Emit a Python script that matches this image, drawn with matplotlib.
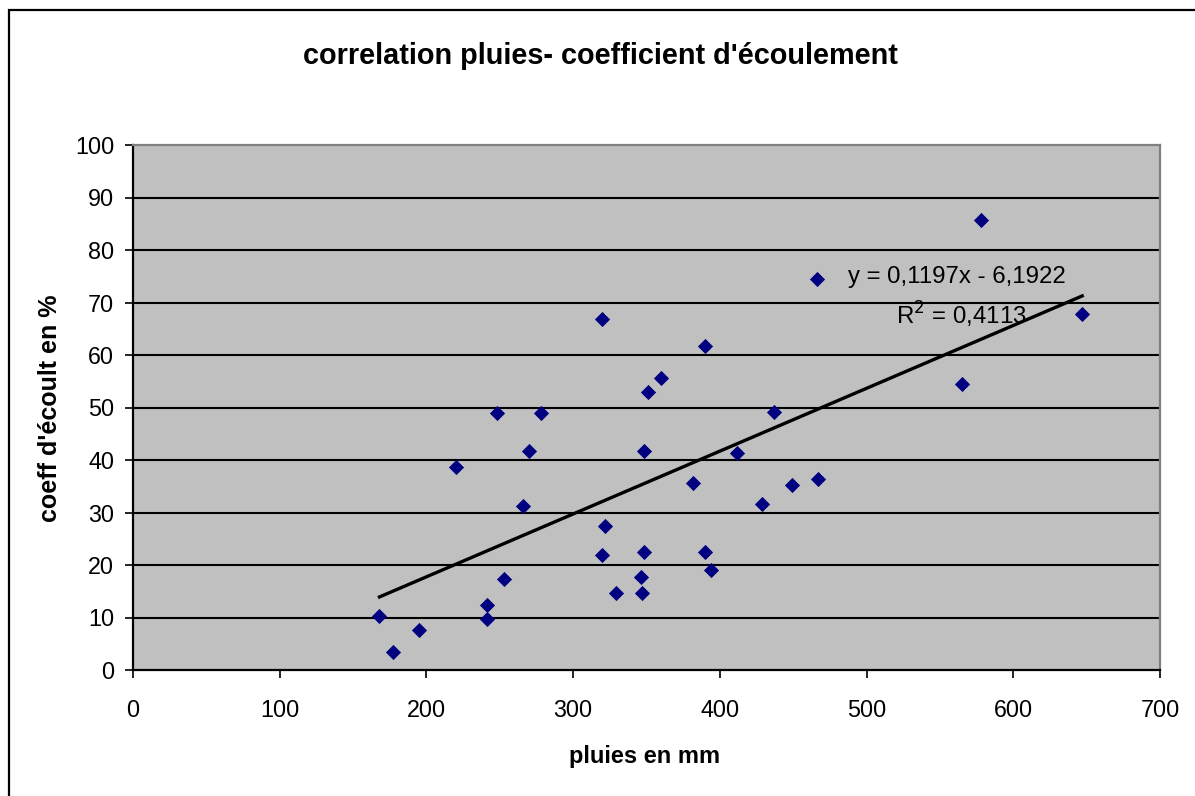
import matplotlib
matplotlib.use("Agg")
import matplotlib.pyplot as plt
from matplotlib.patches import Rectangle
import numpy as np

plt.rcParams['font.family'] = ['Liberation Sans', 'DejaVu Sans']

# Data
pluies = [168, 177, 195, 220, 241.5, 241.5, 248, 252.6, 266, 270, 278,
          320, 320, 322, 329, 346, 347, 348.6, 348.6, 351, 360, 382,
          389.7, 389.6, 394.3, 412, 429, 437, 449, 466, 467, 565, 578, 647]
coeff = [10.3, 3.5, 7.7, 38.6, 12.4, 9.7, 48.9, 17.4, 31.3, 41.7, 48.9,
         66.8, 22.0, 27.4, 14.7, 17.8, 14.7, 22.4, 41.7, 52.9, 55.6, 35.6,
         61.8, 22.4, 19.0, 41.4, 31.7, 49.1, 35.2, 74.5, 36.3, 54.5, 85.7, 67.9]
slope = 0.1197
intercept = -6.1922
r2 = 0.4113
x_ticks = [0, 100, 200, 300, 400, 500, 600, 700]
y_ticks = [0, 10, 20, 30, 40, 50, 60, 70, 80, 90, 100]

W, H = 1195, 796
fig = plt.figure(figsize=(W / 100, H / 100), dpi=100)
fig.patch.set_facecolor('white')

# outer chart frame (left/top visible)
fig.patches.append(Rectangle((9 / W, -0.05), 1.2, 1 - 10 / H + 0.05,
                             transform=fig.transFigure, fill=False,
                             edgecolor='black', linewidth=1.6))

ax = fig.add_axes([133 / W, 1 - 670 / H, (1160 - 133) / W, (670 - 145) / H])
ax.set_facecolor('#C0C0C0')
ax.set_xlim(0, 700)
ax.set_ylim(0, 100)
ax.set_xticks(x_ticks)
ax.set_yticks(y_ticks)
ax.tick_params(axis='both', direction='out', length=6, width=1.2,
               labelsize=16.8, colors='black')
ax.tick_params(axis='x', pad=15)
ax.tick_params(axis='y', pad=7.5)

for y in y_ticks[1:-1]:
    ax.axhline(y, color='black', linewidth=1.5, zorder=1)

for side in ['left', 'bottom']:
    ax.spines[side].set_color('black')
    ax.spines[side].set_linewidth(1.6)
for side in ['top', 'right']:
    ax.spines[side].set_color('#808080')
    ax.spines[side].set_linewidth(1.6)

ax.scatter(pluies, coeff, marker='D', s=60, color='#000080', zorder=3,
           linewidths=0)

xs = np.array([min(pluies), max(pluies)])
ax.plot(xs, slope * xs + intercept, color='black', linewidth=2.4, zorder=2)

ax.text(848 / W, 1 - 277 / H, 'y = 0,1197x - 6,1922', transform=fig.transFigure,
        fontsize=17.3, va='center', ha='left')
ax.text(896 / W, 1 - 315 / H, 'R$^2$ = 0,4113', transform=fig.transFigure,
        fontsize=17.3, va='center', ha='left')

fig.text(600 / W, 1 - 56 / H, "correlation pluies- coefficient d'écoulement",
         fontsize=20.8, fontweight='bold', ha='center', va='center')
fig.text(645 / W, 1 - 756 / H, 'pluies en mm', fontsize=17,
         fontweight='bold', ha='center', va='center')
fig.text(50 / W, 1 - 408 / H, "coeff d'écoult en %", fontsize=18,
         fontweight='bold', ha='center', va='center', rotation=90)

fig.savefig('out.png', dpi=100)
